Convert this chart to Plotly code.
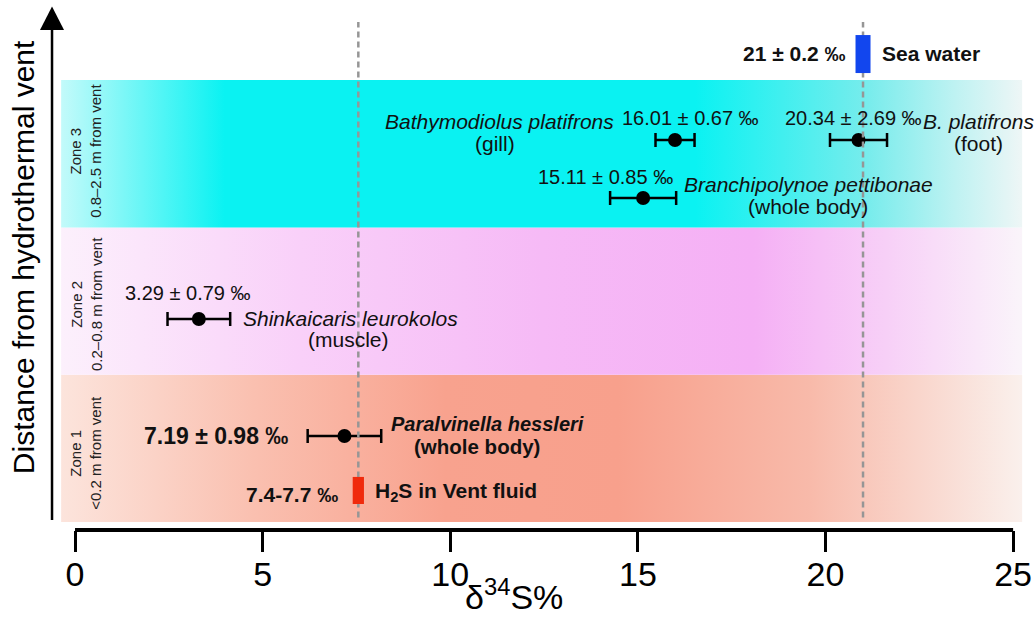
import plotly.graph_objects as go

# ---------------- data ----------------
zones = [1, 2, 3]
zone_labels = ["Zone 1<br>&lt;0.2 m from vent", "Zone 2<br>0.2–0.8 m from vent", "Zone 3<br>0.8–2.5 m from vent"]
zone_label_y = [0.97, 1.98, 3.02]

species = ["B. platifrons (gill)", "B. platifrons (foot)", "Branchipolynoe pettibonae",
           "Shinkaicaris leurokolos", "Paralvinella hessleri"]
d34s_mean = [15.99, 20.88, 15.14, 3.30, 7.18]
d34s_err = [0.52, 0.76, 0.88, 0.835, 0.98]
row_y = [3.093, 3.093, 2.700, 1.878, 1.084]

seawater_range = [20.8, 21.2]
h2s_range = [7.4, 7.7]

x_ticks = [0, 5, 10, 15, 20, 25]

FONT = "Liberation Sans, Arial, sans-serif"

fig = go.Figure()

# ---------------- gradient zone bands ----------------
band_x0, band_x1 = -0.37, 25.24
band_scales = {
    3: [[0, "rgb(195,250,250)"], [0.17, "rgb(10,242,242)"], [0.66, "rgb(10,242,242)"],
        [0.84, "rgb(120,236,236)"], [0.93, "rgb(190,242,242)"], [1, "rgb(238,246,246)"]],
    2: [[0, "rgb(252,240,252)"], [0.25, "rgb(249,208,249)"], [0.5, "rgb(246,186,246)"],
        [0.72, "rgb(245,176,245)"], [0.86, "rgb(247,208,247)"], [1, "rgb(250,244,250)"]],
    1: [[0, "rgb(252,228,220)"], [0.2, "rgb(250,192,176)"], [0.4, "rgb(248,162,142)"],
        [0.58, "rgb(248,160,140)"], [0.78, "rgb(248,186,170)"], [1, "rgb(250,240,236)"]],
}
for z in zones:
    fig.add_trace(go.Scatter(
        x=[band_x0, band_x1, band_x1, band_x0, band_x0],
        y=[z - 0.5, z - 0.5, z + 0.5, z + 0.5, z - 0.5],
        mode="lines", line=dict(width=0), fill="toself",
        fillgradient=dict(type="horizontal", colorscale=band_scales[z]),
        hoverinfo="skip", showlegend=False))

# ---------------- reference dashed lines ----------------
for xv in [sum(h2s_range) / 2, sum(seawater_range) / 2]:
    fig.add_shape(type="line", x0=xv, x1=xv, y0=0.53, y1=3.894, xref="x", yref="y",
                  line=dict(color="rgb(150,150,150)", width=2.5, dash="6px,4px"), layer="above")

# ---------------- sea water / H2S boxes ----------------
fig.add_shape(type="rect", x0=seawater_range[0], x1=seawater_range[1], y0=3.548, y1=3.806,
              xref="x", yref="y", fillcolor="rgb(18,70,238)", line=dict(width=0), layer="above")
fig.add_shape(type="rect", x0=h2s_range[0], x1=h2s_range[1], y0=0.622, y1=0.806,
              xref="x", yref="y", fillcolor="rgb(240,42,12)", line=dict(width=0), layer="above")

# ---------------- data points ----------------
fig.add_trace(go.Scatter(
    x=d34s_mean, y=row_y, mode="markers",
    marker=dict(color="black", size=14),
    error_x=dict(type="data", array=d34s_err, symmetric=True, thickness=2.5, width=7, color="black"),
    text=species, hoverinfo="text", showlegend=False))

# ---------------- axis line + left arrow ----------------
fig.add_shape(type="line", x0=x_ticks[0], x1=x_ticks[-1], y0=0, y1=0, xref="x", yref="paper",
              line=dict(color="black", width=4))
fig.add_shape(type="line", x0=-0.613, x1=-0.613, y0=0.514, y1=3.86, xref="x", yref="y",
              line=dict(color="black", width=2.5))
fig.add_shape(type="path", path="M -0.933 3.840 L -0.293 3.840 L -0.613 4.0 Z",
              xref="x", yref="y", fillcolor="black", line=dict(width=0))

# ---------------- annotations ----------------
def ann(x, y, text, size=20, xanchor="center", bold=False, italic=False, color="#111"):
    t = text
    if italic:
        t = f"<i>{t}</i>"
    if bold:
        t = f"<b>{t}</b>"
    fig.add_annotation(x=x, y=y, xref="x", yref="y", text=t, showarrow=False,
                       xanchor=xanchor, yanchor="middle",
                       font=dict(family=FONT, size=size, color=color))

ann(20.60, 3.684, "21 ± 0.2 ‰", size=21, xanchor="right", bold=True)
ann(21.455, 3.684, "Sea water", size=21, xanchor="left", bold=True)

ann(11.30, 3.222, "Bathymodiolus platifrons", size=21, italic=True)
ann(11.19, 3.073, "(gill)", size=21)
ann(14.53, 3.243, "16.01 ± 0.67 ‰", xanchor="left")
ann(18.87, 3.243, "20.34 ± 2.69 ‰", xanchor="left")
ann(24.09, 3.222, "B. platifrons", size=21, italic=True)
ann(24.07, 3.073, "(foot)", size=21)
ann(16.0, 2.842, "15.11 ± 0.85 ‰", xanchor="right")
ann(19.54, 2.788, "Branchipolynoe pettibonae", size=21, italic=True)
ann(19.54, 2.645, "(whole body)", size=21)

ann(3.01, 2.055, "3.29 ± 0.79 ‰")
ann(7.33, 1.885, "Shinkaicaris leurokolos", size=21, italic=True)
ann(7.28, 1.742, "(muscle)", size=21)

ann(5.73, 1.084, "7.19 ± 0.98 ‰", size=23, xanchor="right", bold=True)
ann(10.98, 1.165, "Paralvinella hessleri", size=20, bold=True, italic=True)
ann(10.71, 1.016, "(whole body)", size=20.5, bold=True)
ann(7.06, 0.690, "7.4-7.7 ‰", size=21, xanchor="right", bold=True)
ann(7.94, 0.704, "H<sub>2</sub>S in Vent fluid", size=21, xanchor="left", bold=True)

for zy, zl in zip(zone_label_y, zone_labels):
    fig.add_annotation(x=0.293, y=zy, xref="x", yref="y", text=zl, showarrow=False,
                       textangle=-90, font=dict(family=FONT, size=15, color="#222"))

# axis titles
fig.add_annotation(x=-0.016, y=0.52, xref="paper", yref="paper", xanchor="center",
                   yanchor="middle",
                   text="Distance from hydrothermal vent", showarrow=False, textangle=-90,
                   font=dict(family=FONT, size=30, color="black"))
fig.add_annotation(x=11.7, y=-0.1676, xref="x", yref="paper", xanchor="center",
                   yanchor="bottom", text="δ<sup>34</sup>S%", showarrow=False,
                   font=dict(family=FONT, size=34, color="black"))

# ---------------- layout ----------------
fig.update_layout(
    width=1034, height=619,
    margin=dict(l=39, r=4, t=5, b=89, autoexpand=False),
    paper_bgcolor="white", plot_bgcolor="white",
    xaxis=dict(range=[-0.96, 25.45], tickvals=x_ticks, ticktext=[str(v) for v in x_ticks],
               automargin=False,
               showgrid=False, zeroline=False, showline=False,
               ticks="outside", ticklen=21, tickwidth=3, tickcolor="black",
               ticklabelstandoff=-7,
               tickfont=dict(family=FONT, size=34, color="black")),
    yaxis=dict(range=[0.4457, 4.010], visible=False, showgrid=False, zeroline=False),
    showlegend=False,
)

fig.write_html("out.html", config={"displayModeBar": False},
               post_script="document.body.style.margin='0px';")
